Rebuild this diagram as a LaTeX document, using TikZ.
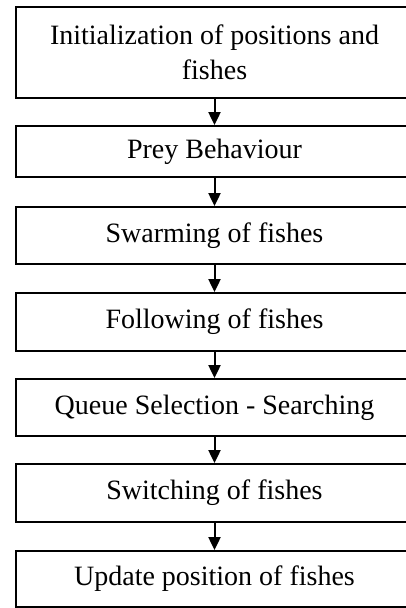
\documentclass[tikz,border=0pt]{standalone}
\usepackage{fontspec}
\setmainfont{Liberation Serif}
\usetikzlibrary{arrows.meta}
\begin{document}
\begin{tikzpicture}[x=1pt,y=1pt,
  stepbox/.style={draw=black, line width=1.8pt, minimum width=397pt, inner sep=0pt,
    align=center, font=\fontsize{28}{35}\selectfont},
  flow/.style={line width=2pt, -{Triangle[width=12pt,length=13pt]}}]
\useasboundingbox (0,0) rectangle (406,-608);
\node[stepbox, minimum height=91pt] (b1) at (214.5,-52.5) {Initialization of positions and\\fishes};
\node[stepbox, minimum height=51pt] (b2) at (214.5,-151.5) {Prey Behaviour};
\node[stepbox, minimum height=57pt] (b3) at (214.5,-235.5) {Swarming of fishes};
\node[stepbox, minimum height=58pt] (b4) at (214.5,-322) {Following of fishes};
\node[stepbox, minimum height=57pt] (b5) at (214.5,-407.5) {Queue Selection - Searching};
\node[stepbox, minimum height=58pt] (b6) at (214.5,-493) {Switching of fishes};
\node[stepbox, minimum height=56pt] (b7) at (214.5,-579) {Update position of fishes};
\draw[flow] (b1) -- (b2);
\draw[flow] (b2) -- (b3);
\draw[flow] (b3) -- (b4);
\draw[flow] (b4) -- (b5);
\draw[flow] (b5) -- (b6);
\draw[flow] (b6) -- (b7);
\end{tikzpicture}
\end{document}
